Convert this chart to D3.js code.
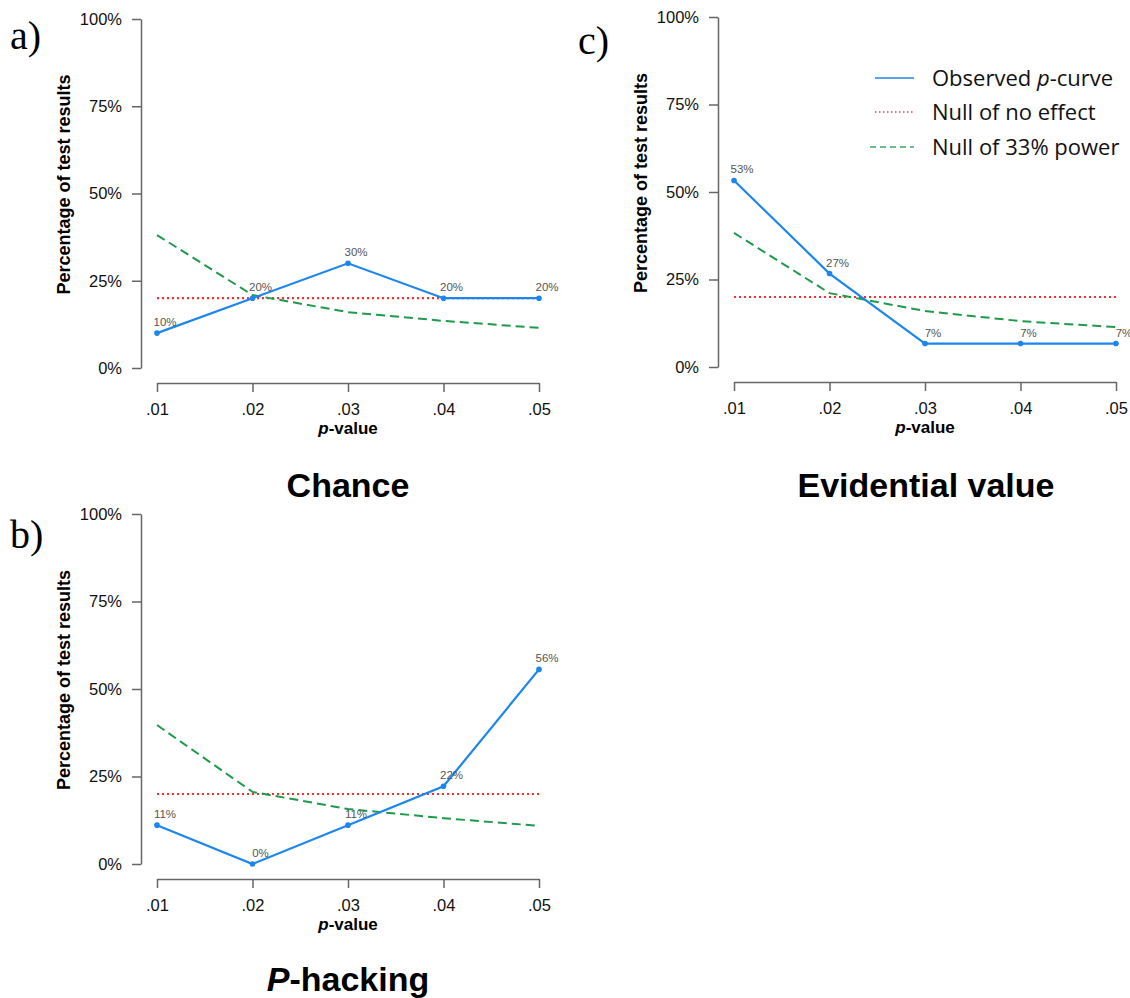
<!DOCTYPE html>
<html>
<head>
<meta charset="utf-8">
<script src="https://cdn.jsdelivr.net/npm/d3@7"></script>
<style>
  body { margin: 0; background: #fff; }
  svg { display: block; }
</style>
</head>
<body>
<div id="chart"></div>
<script>
// p-value bins and tick labels
var pValues = [0.01, 0.02, 0.03, 0.04, 0.05]
var yTicks = [0, 25, 50, 75, 100]

// a) Chance
var chanceObserved = [10, 20, 30, 20, 20]
var chanceLabels = ["10%", "20%", "30%", "20%", "20%"]
var chancePower = [38.1, 20.9, 16.0, 13.5, 11.5]

// b) P-hacking
var hackObserved = [11.1, 0, 11.1, 22.2, 55.6]
var hackLabels = ["11%", "0%", "11%", "22%", "56%"]
var hackPower = [39.7, 20.6, 15.7, 13.1, 10.9]

// c) Evidential value
var evidObserved = [53.3, 26.7, 6.7, 6.7, 6.7]
var evidLabels = ["53%", "27%", "7%", "7%", "7%"]
var evidPower = [38.3, 21.1, 16.0, 13.1, 11.4]

var nullNoEffect = [20, 20, 20, 20, 20]

var legendLabels = ["Observed ", "Null of no effect", "Null of 33% power"]

var blue = "#1c86ee", red = "#ff2a2a", green = "#1e9a4a"

var svg = d3.select("#chart").append("svg")
    .attr("width", 1130)
    .attr("height", 998)

function drawPanel(opt) {
  var x = d3.scaleLinear().domain([0.01, 0.05]).range([opt.left, opt.right])
  var y = d3.scaleLinear().domain([0, 100]).range([opt.bottom, opt.top])
  var g = svg.append("g")

  g.append("g")
      .attr("transform", "translate(" + (opt.left - 16) + ",0)")
      .call(d3.axisLeft(y).tickValues(yTicks).tickFormat(function(d) { return d + "%" })
        .tickSize(9).tickSizeOuter(0).tickPadding(10))
  g.append("g")
      .attr("transform", "translate(0," + (opt.bottom + 15) + ")")
      .call(d3.axisBottom(x).tickValues(pValues)
        .tickFormat(function(d) { return d3.format(".2f")(d).replace(/^0/, "") })
        .tickSize(9).tickSizeOuter(0).tickPadding(11))

  g.selectAll(".domain, .tick line").attr("stroke", "#666").attr("stroke-width", 1.5)
  g.selectAll(".tick text")
    .attr("font-family", "Liberation Sans, Arial, sans-serif")
    .attr("font-size", 16.5).attr("fill", "#111")

  // axis titles
  g.append("text")
    .attr("transform", "translate(" + (opt.left - 93) + "," + ((opt.top + opt.bottom) / 2 - 9) + ") rotate(-90)")
    .attr("text-anchor", "middle").attr("dy", "0.35em")
    .attr("font-family", "Liberation Sans, Arial, sans-serif")
    .attr("font-size", 18).attr("font-weight", "bold")
    .text("Percentage of test results")

  var xt = g.append("text")
    .attr("x", (opt.left + opt.right) / 2).attr("y", opt.bottom + 66)
    .attr("text-anchor", "middle")
    .attr("font-family", "Liberation Sans, Arial, sans-serif")
    .attr("font-size", 17).attr("font-weight", "bold")
  xt.append("tspan").attr("font-style", "italic").text("p")
  xt.append("tspan").text("-value")

  var line = d3.line()
      .x(function(d, i) { return x(pValues[i]) })
      .y(function(d) { return y(d) })

  g.append("path").attr("d", line(nullNoEffect))
    .attr("fill", "none").attr("stroke", red).attr("stroke-width", 2.2)
    .attr("stroke-dasharray", "2,3")
  g.append("path").attr("d", line(opt.power))
    .attr("fill", "none").attr("stroke", green).attr("stroke-width", 2)
    .attr("stroke-dasharray", "9,5")
  g.append("path").attr("d", line(opt.observed))
    .attr("fill", "none").attr("stroke", blue).attr("stroke-width", 2.2)

  g.selectAll(".pt").data(opt.observed).enter().append("circle")
    .attr("cx", function(d, i) { return x(pValues[i]) })
    .attr("cy", function(d) { return y(d) })
    .attr("r", 2.8).attr("fill", blue)

  g.selectAll(".lbl").data(opt.observed).enter().append("text")
    .attr("x", function(d, i) { return x(pValues[i]) + 8 })
    .attr("y", function(d) { return y(d) - 7 })
    .attr("text-anchor", "middle")
    .attr("font-family", "Liberation Sans, Arial, sans-serif")
    .attr("font-size", 11.5).attr("fill", "#555")
    .text(function(d, i) { return opt.labels[i] })

  // panel letter
  g.append("text")
    .attr("x", opt.letterX).attr("y", opt.letterY)
    .attr("font-family", "Liberation Serif, Times New Roman, serif")
    .attr("font-size", 40)
    .text(opt.letter)

  // title below
  var t = g.append("text")
    .attr("x", (opt.left + opt.right) / 2 + opt.titleShift).attr("y", opt.titleY)
    .attr("text-anchor", "middle")
    .attr("font-family", "Liberation Sans, Arial, sans-serif")
    .attr("font-size", 34).attr("font-weight", "bold")
  if (opt.titleItalic) t.append("tspan").attr("font-style", "italic").text(opt.titleItalic)
  t.append("tspan").text(opt.title)
}

drawPanel({left: 157, right: 539, top: 19, bottom: 368, observed: chanceObserved, labels: chanceLabels,
  power: chancePower, letter: "a)", letterX: 10, letterY: 49, title: "Chance", titleY: 497, titleShift: 0})
drawPanel({left: 157, right: 539, top: 514, bottom: 864, observed: hackObserved, labels: hackLabels,
  power: hackPower, letter: "b)", letterX: 10, letterY: 548, title: "-hacking", titleItalic: "P", titleY: 991, titleShift: 0})
drawPanel({left: 734, right: 1116, top: 17, bottom: 367, observed: evidObserved, labels: evidLabels,
  power: evidPower, letter: "c)", letterX: 578, letterY: 54, title: "Evidential value", titleY: 497, titleShift: 1})

// legend
var legend = svg.append("g").attr("transform", "translate(872,0)")
var legendRows = [
  {y: 78, color: blue, dash: null, w: 1.6},
  {y: 112, color: "#ff6a6a", dash: "1.5,2.5", w: 2},
  {y: 147, color: "#3aa866", dash: "6,4", w: 1.6}
]
legendRows.forEach(function(r, i) {
  legend.append("line")
    .attr("x1", i == 2 ? -2 : 3).attr("x2", 42).attr("y1", r.y).attr("y2", r.y)
    .attr("stroke", r.color).attr("stroke-width", r.w)
    .attr("stroke-dasharray", r.dash)
  var tx = legend.append("text")
    .attr("x", 60).attr("y", r.y).attr("dy", "0.35em")
    .attr("font-family", "Open Sans, sans-serif")
    .attr("font-size", 22).attr("fill", "#111")
  tx.append("tspan").text(legendLabels[i])
  if (i == 0) {
    tx.append("tspan").attr("font-style", "italic").text("p")
    tx.append("tspan").text("-curve")
  }
})
</script>
</body>
</html>
